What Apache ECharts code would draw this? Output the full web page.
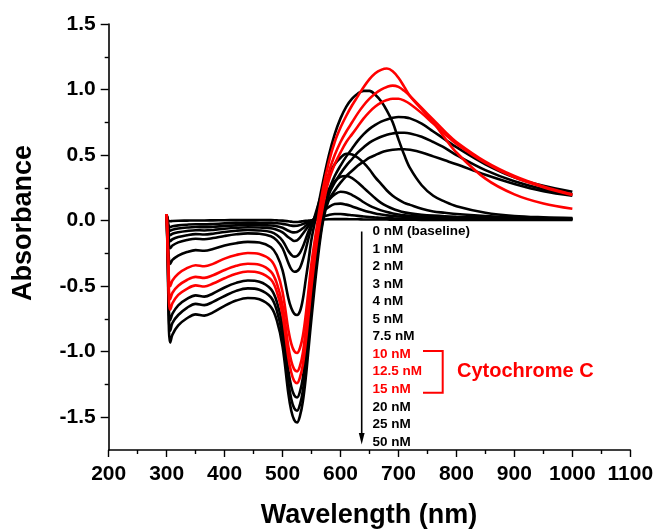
<!DOCTYPE html>
<html>
<head>
<meta charset="utf-8">
<script src="https://cdn.jsdelivr.net/npm/echarts@6/dist/echarts.min.js"></script>
<style>
html,body{margin:0;padding:0;background:#fff;}
#chart{width:657px;height:531px;}
</style>
</head>
<body>
<div id="chart"></div>
<script>
const wavelengths = [300,302,304,306,310,320,335,350,365,380,400,420,440,460,480,490,500,510,515,520,525,530,535,540,545,550,560,570,580,590,600,610,620,630,640,650,660,670,680,690,700,710,720,740,760,780,800,850,900,950,1000];

const s0nM = [0.04,0.01,-0.005,-0.005,-0.003,-0.001,0.0,0.001,0.001,0.002,0.003,0.004,0.005,0.005,0.004,0.002,0.0,-0.005,-0.008,-0.01,-0.01,-0.008,-0.005,-0.002,0.0,0.002,0.005,0.008,0.01,0.011,0.011,0.011,0.01,0.01,0.009,0.009,0.008,0.008,0.008,0.007,0.007,0.007,0.007,0.006,0.006,0.006,0.006,0.005,0.005,0.005,0.005];
const s1nM = [0.04,-0.01,-0.045,-0.05,-0.043,-0.036,-0.031,-0.028,-0.029,-0.026,-0.021,-0.017,-0.015,-0.016,-0.017,-0.02,-0.025,-0.034,-0.038,-0.04,-0.039,-0.034,-0.026,-0.018,-0.01,-0.002,0.015,0.03,0.043,0.05,0.05,0.046,0.041,0.036,0.031,0.027,0.024,0.021,0.019,0.017,0.015,0.014,0.013,0.012,0.011,0.01,0.01,0.009,0.008,0.008,0.008];
const s2nM = [0.04,-0.02,-0.07,-0.077,-0.069,-0.06,-0.053,-0.049,-0.05,-0.047,-0.041,-0.036,-0.033,-0.034,-0.037,-0.043,-0.055,-0.077,-0.086,-0.09,-0.087,-0.075,-0.058,-0.04,-0.022,-0.005,0.03,0.07,0.105,0.127,0.13,0.122,0.108,0.092,0.078,0.066,0.055,0.047,0.04,0.035,0.031,0.028,0.025,0.021,0.018,0.016,0.015,0.013,0.011,0.01,0.01];
const s3nM = [0.045,-0.03,-0.10,-0.112,-0.10,-0.089,-0.079,-0.073,-0.075,-0.071,-0.062,-0.055,-0.051,-0.053,-0.058,-0.07,-0.09,-0.127,-0.142,-0.155,-0.15,-0.13,-0.10,-0.07,-0.04,-0.01,0.05,0.11,0.16,0.20,0.22,0.215,0.195,0.17,0.14,0.115,0.095,0.078,0.065,0.055,0.047,0.041,0.037,0.031,0.027,0.024,0.022,0.018,0.015,0.013,0.012];
const s4nM = [0.045,-0.05,-0.14,-0.157,-0.142,-0.125,-0.111,-0.103,-0.106,-0.10,-0.087,-0.077,-0.072,-0.075,-0.087,-0.11,-0.153,-0.232,-0.26,-0.275,-0.27,-0.245,-0.20,-0.14,-0.08,-0.03,0.07,0.16,0.24,0.30,0.335,0.34,0.325,0.29,0.25,0.21,0.17,0.135,0.11,0.09,0.075,0.063,0.055,0.045,0.038,0.033,0.03,0.025,0.02,0.018,0.015];
const s5nM = [0.05,-0.07,-0.19,-0.21,-0.19,-0.166,-0.148,-0.138,-0.142,-0.133,-0.117,-0.104,-0.097,-0.10,-0.119,-0.15,-0.211,-0.323,-0.37,-0.39,-0.385,-0.36,-0.30,-0.22,-0.13,-0.05,0.10,0.24,0.35,0.43,0.48,0.51,0.505,0.48,0.44,0.39,0.33,0.28,0.23,0.19,0.16,0.135,0.12,0.09,0.07,0.06,0.05,0.035,0.025,0.02,0.015];
const s7p5nM = [0.05,-0.12,-0.30,-0.33,-0.30,-0.267,-0.24,-0.225,-0.23,-0.217,-0.19,-0.172,-0.162,-0.167,-0.203,-0.262,-0.38,-0.592,-0.667,-0.709,-0.72,-0.692,-0.60,-0.45,-0.30,-0.14,0.08,0.30,0.50,0.66,0.78,0.87,0.93,0.97,0.99,0.99,0.96,0.91,0.84,0.75,0.62,0.50,0.40,0.27,0.19,0.145,0.11,0.06,0.035,0.025,0.02];
const s10nM = [0.05,-0.18,-0.45,-0.50,-0.457,-0.405,-0.363,-0.34,-0.348,-0.33,-0.29,-0.262,-0.247,-0.255,-0.303,-0.384,-0.545,-0.835,-0.938,-0.995,-1.01,-0.972,-0.88,-0.72,-0.52,-0.32,-0.02,0.25,0.45,0.60,0.71,0.80,0.88,0.95,1.02,1.08,1.125,1.15,1.16,1.14,1.09,1.02,0.95,0.85,0.75,0.63,0.52,0.32,0.20,0.13,0.09];
const s12p5nM = [0.05,-0.22,-0.54,-0.60,-0.55,-0.497,-0.453,-0.429,-0.437,-0.417,-0.377,-0.345,-0.329,-0.337,-0.39,-0.477,-0.649,-0.961,-1.072,-1.134,-1.15,-1.109,-1.01,-0.83,-0.63,-0.42,-0.08,0.18,0.37,0.50,0.60,0.68,0.75,0.82,0.88,0.93,0.97,1.00,1.02,1.03,1.02,0.99,0.95,0.86,0.77,0.68,0.60,0.45,0.34,0.26,0.20];
const s15nM = [0.05,-0.25,-0.62,-0.68,-0.63,-0.567,-0.52,-0.494,-0.503,-0.48,-0.44,-0.405,-0.388,-0.397,-0.451,-0.541,-0.72,-1.044,-1.159,-1.223,-1.24,-1.197,-1.10,-0.93,-0.72,-0.50,-0.14,0.12,0.31,0.43,0.52,0.60,0.66,0.72,0.78,0.83,0.87,0.90,0.92,0.93,0.93,0.915,0.89,0.82,0.74,0.66,0.585,0.44,0.33,0.255,0.195];
const s20nM = [0.05,-0.28,-0.70,-0.76,-0.71,-0.646,-0.597,-0.57,-0.58,-0.556,-0.51,-0.475,-0.457,-0.466,-0.523,-0.618,-0.805,-1.145,-1.265,-1.332,-1.35,-1.305,-1.20,-1.02,-0.80,-0.58,-0.22,0.05,0.23,0.34,0.42,0.49,0.55,0.61,0.66,0.70,0.73,0.755,0.772,0.784,0.79,0.788,0.78,0.74,0.68,0.62,0.56,0.43,0.33,0.265,0.22];
const s25nM = [0.05,-0.30,-0.76,-0.84,-0.78,-0.72,-0.665,-0.635,-0.645,-0.62,-0.575,-0.536,-0.517,-0.527,-0.586,-0.685,-0.881,-1.235,-1.361,-1.431,-1.45,-1.403,-1.30,-1.11,-0.89,-0.66,-0.27,0.02,0.20,0.29,0.36,0.42,0.47,0.52,0.56,0.595,0.62,0.64,0.655,0.665,0.67,0.67,0.665,0.64,0.60,0.555,0.50,0.385,0.30,0.24,0.20];
const s50nM = [0.05,-0.33,-0.84,-0.93,-0.87,-0.80,-0.745,-0.715,-0.725,-0.70,-0.65,-0.61,-0.59,-0.60,-0.66,-0.76,-0.96,-1.32,-1.45,-1.52,-1.54,-1.49,-1.38,-1.20,-0.97,-0.74,-0.32,0.0,0.16,0.23,0.29,0.34,0.38,0.42,0.45,0.48,0.50,0.52,0.533,0.541,0.545,0.545,0.54,0.52,0.49,0.46,0.43,0.35,0.28,0.225,0.19];

const legendLabels = ['0 nM (baseline)','1 nM','2 nM','3 nM','4 nM','5 nM','7.5 nM','10 nM','12.5 nM','15 nM','20 nM','25 nM','50 nM'];
const legendRed = [false,false,false,false,false,false,false,true,true,true,false,false,false];
const seriesValues = [s0nM,s1nM,s2nM,s3nM,s4nM,s5nM,s7p5nM,s10nM,s12p5nM,s15nM,s20nM,s25nM,s50nM];
const yMajorTicks = [-1.5,-1.0,-0.5,0.0,0.5,1.0,1.5];
const yMinorTicks = [-1.25,-0.75,-0.25,0.25,0.75,1.25];
const xAxisTitle = 'Wavelength (nm)';
const yAxisTitle = 'Absorbance';
const groupLabel = 'Cytochrome C';

const FONT = '"Liberation Sans", Arial, Helvetica, sans-serif';
const chart = echarts.init(document.getElementById('chart'), null, {renderer:'canvas'});

const order = [0,1,2,3,4,5,6,10,11,12,7,8,9];
const series = order.map(i => ({
  name: legendLabels[i],
  type: 'line',
  data: wavelengths.map((w, k) => [w, seriesValues[i][k]]),
  showSymbol: false,
  smooth: 0.35,
  lineStyle: { width: 2.6, color: legendRed[i] ? '#ff0000' : '#000000' },
  itemStyle: { color: legendRed[i] ? '#ff0000' : '#000000' },
  emphasis: { disabled: true },
  animation: false,
  z: legendRed[i] ? 3 : 2
}));

const legendTop = 232.3, legendStep = 17.55, legendX = 372.5;
const graphics = [];
legendLabels.forEach((lab, i) => {
  graphics.push({
    type: 'text', left: legendX, top: legendTop + i*legendStep - 8, z: 10,
    style: { text: lab, fill: legendRed[i] ? '#ff0000' : '#000000', font: 'bold 13.5px ' + FONT }
  });
});
// arrow
graphics.push({ type:'line', z:10, shape:{x1:361.7,y1:231.5,x2:361.7,y2:436}, style:{stroke:'#000',lineWidth:1.6} });
graphics.push({ type:'polygon', z:10, shape:{points:[[358.8,433],[364.6,433],[361.7,444.5]]}, style:{fill:'#000'} });
// bracket
graphics.push({ type:'polyline', z:10, shape:{points:[[423,351],[442.7,351],[442.7,392.7],[423,392.7]]}, style:{stroke:'#ff0000',lineWidth:2,fill:null} });
graphics.push({ type:'text', z:10, left: 457, top: 372.7 - 11.5, style:{ text: groupLabel, fill:'#ff0000', font:'bold 20px ' + FONT } });
// axis titles
graphics.push({ type:'text', z:10, x: 369, y: 516, style:{ text: xAxisTitle, fill:'#000', font:'bold 27px ' + FONT, textAlign:'center', textVerticalAlign:'middle' } });
graphics.push({ type:'text', z:10, x: 24, y: 223, rotation: Math.PI/2, style:{ text: yAxisTitle, fill:'#000', font:'bold 27px ' + FONT, textAlign:'center', textVerticalAlign:'middle' } });

const option = {
  backgroundColor: '#ffffff',
  animation: false,
  grid: { left: 108.7, right: 26.7, top: 24, bottom: 81, containLabel: false },
  xAxis: {
    type: 'value', min: 200, max: 1100, interval: 100,
    axisLine: { show: true, onZero: false, lineStyle: { color: '#000', width: 1.6 } },
    axisTick: { show: true, length: 7, lineStyle: { color: '#000', width: 1.4 } },
    minorTick: { show: true, splitNumber: 2, length: 4, lineStyle: { color: '#000', width: 1.4 } },
    splitLine: { show: false }, minorSplitLine: { show: false },
    axisLabel: { color: '#000', fontFamily: FONT, fontWeight: 'bold', fontSize: 21, margin: 14,
      formatter: v => String(v) }
  },
  yAxis: [{
    type: 'value', min: -1.75, max: 1.5, interval: 0.25,
    axisLine: { show: true, onZero: false, lineStyle: { color: '#000', width: 1.6 } },
    axisTick: { show: true, length: 8, customValues: yMajorTicks, lineStyle: { color: '#000', width: 1.4 } },
    splitLine: { show: false },
    axisLabel: { color: '#000', fontFamily: FONT, fontWeight: 'bold', fontSize: 21, margin: 13,
      customValues: yMajorTicks, formatter: v => Number(v).toFixed(1) }
  }, {
    type: 'value', min: -1.75, max: 1.5, interval: 0.25, position: 'left',
    axisLine: { show: false },
    axisTick: { show: true, length: 4, customValues: yMinorTicks, lineStyle: { color: '#000', width: 1.4 } },
    splitLine: { show: false },
    axisLabel: { show: false }
  }],
  series: series,
  graphic: graphics
};
chart.setOption(option);
</script>
</body>
</html>
